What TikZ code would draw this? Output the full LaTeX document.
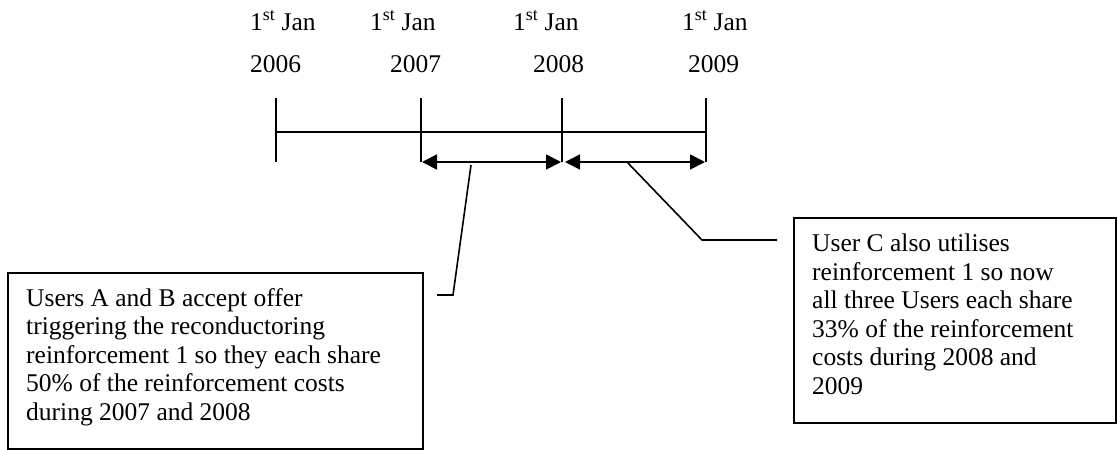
\documentclass[tikz,border=0pt]{standalone}
\usepackage{fontspec}
\setmainfont{Liberation Serif}
\usetikzlibrary{arrows.meta}
\begin{document}
\begin{tikzpicture}[x=1pt,y=-1pt,
  every node/.style={font=\fontsize{25.5}{28.5}\selectfont, inner sep=0pt},
  datelabel/.style={anchor=base west},
  rule/.style={line width=1.8pt},
  period/.style={line width=1.8pt, {Triangle[length=15pt,width=15pt]}-{Triangle[length=15pt,width=15pt]}},
  leader/.style={line width=1.6pt},
  frame/.style={draw, line width=1.8pt, anchor=north west},
  notetext/.style={anchor=base west, align=left}]
  % canvas
  \fill[white] (0,0) rectangle (1117,450);
  \useasboundingbox (0,0) rectangle (1117,450);

  % date labels
  \node[datelabel] (j6) at (250,30) {1\textsuperscript{st} Jan};
  \node[datelabel] (y6) at (250,72) {2006};
  \node[datelabel] (j7) at (370,30) {1\textsuperscript{st} Jan};
  \node[datelabel] (y7) at (390,72) {2007};
  \node[datelabel] (j8) at (513,30) {1\textsuperscript{st} Jan};
  \node[datelabel] (y8) at (533,72) {2008};
  \node[datelabel] (j9) at (682,30) {1\textsuperscript{st} Jan};
  \node[datelabel] (y9) at (688,72) {2009};

  % tick marks
  \coordinate (t6a) at (276,98);  \coordinate (t6b) at (276,162);
  \coordinate (t7a) at (421,98);  \coordinate (t7b) at (421,162);
  \coordinate (t8a) at (562,98);  \coordinate (t8b) at (562,162);
  \coordinate (t9a) at (706,98);  \coordinate (t9b) at (706,162);
  \draw[rule] (t6a) -- (t6b);
  \draw[rule] (t7a) -- (t7b);
  \draw[rule] (t8a) -- (t8b);
  \draw[rule] (t9a) -- (t9b);

  % time axis
  \coordinate (axL) at (276,132);
  \coordinate (axR) at (706,132);
  \draw[rule] (axL) -- (axR);

  % sharing periods
  \draw[period] ([xshift=1pt]t7b) -- ([xshift=-1pt]t8b);
  \draw[period] ([xshift=3pt]t8b) -- ([xshift=-1pt]t9b);

  % notes: frames and their texts (text placed by its last baseline)
  \node[frame, minimum width=415pt, minimum height=176pt] (boxAB) at (7,272) {};
  \node[notetext] (noteAB) at (26,420)
    {Users A and B accept offer\\
     triggering the reconductoring\\
     reinforcement 1 so they each share\\
     50\% of the reinforcement costs\\
     during 2007 and 2008};
  \node[frame, minimum width=322pt, minimum height=205pt] (boxC) at (793,217) {};
  \node[notetext] (noteC) at (812,394)
    {User C also utilises\\
     reinforcement 1 so now\\
     all three Users each share\\
     33\% of the reinforcement\\
     costs during 2008 and\\
     2009};

  % leader lines
  \coordinate (p1) at (471,165);
  \coordinate (k1) at (453,295);
  \coordinate (e1) at (437,295);
  \draw[leader] (p1) -- (k1) -- (e1);
  \coordinate (p2) at (627,162);
  \coordinate (k2) at (702,240);
  \coordinate (e2) at (777,240);
  \draw[leader] (p2) -- (k2) -- (e2);
\end{tikzpicture}
\end{document}
